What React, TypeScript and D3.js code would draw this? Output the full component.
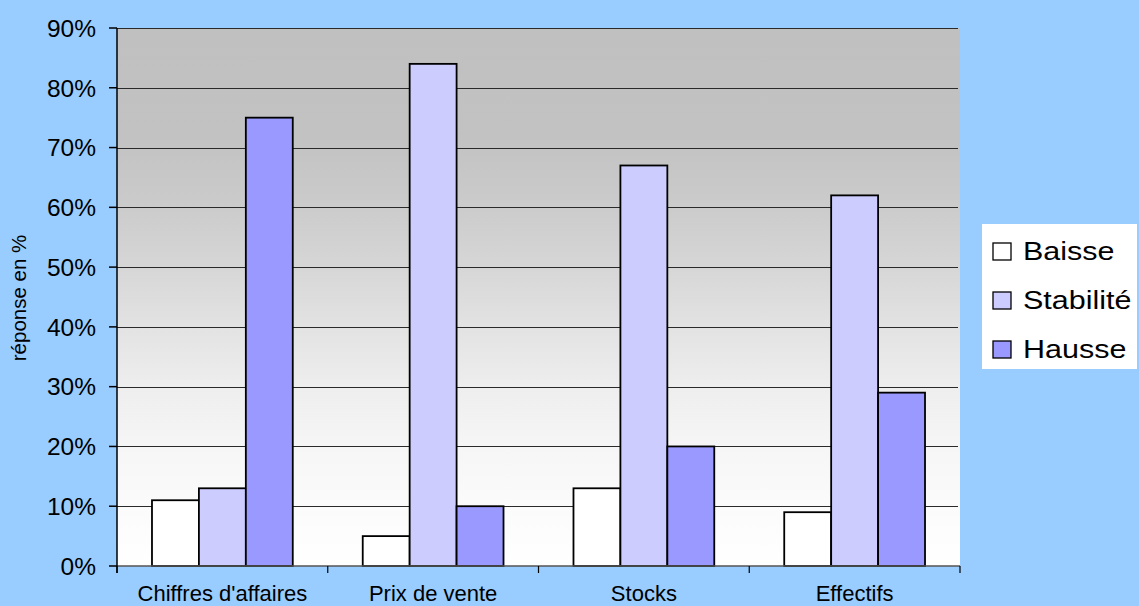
import React from 'react';
import * as d3 from 'd3';

const categories = ["Chiffres d'affaires", 'Prix de vente', 'Stocks', 'Effectifs'];
const series = ['Baisse', 'Stabilité', 'Hausse'];
const baisse = [0.11, 0.05, 0.13, 0.09];
const stabilite = [0.13, 0.84, 0.67, 0.62];
const hausse = [0.75, 0.10, 0.20, 0.29];
const yTicks = [0, 0.1, 0.2, 0.3, 0.4, 0.5, 0.6, 0.7, 0.8, 0.9];
const yLabel = 'réponse en %';

const values = [baisse, stabilite, hausse];
const colors = ['#ffffff', '#ccccff', '#9999ff'];

const W = 1139;
const H = 606;
const plot = { left: 117, right: 960, top: 28, bottom: 566 };
const font = '"Liberation Sans", Arial, sans-serif';

// background shading of the plot area, top (grey) to bottom (white)
const bgStops: [number, string][] = [
  [0, '#c0c0c0'],
  [0.2, '#c2c2c2'],
  [0.33, '#cbcbcb'],
  [0.45, '#d7d7d7'],
  [0.56, '#e3e3e3'],
  [0.67, '#eeeeee'],
  [0.78, '#f6f6f6'],
  [0.89, '#fbfbfb'],
  [1, '#ffffff'],
];

const App: React.FC = () => {
  const x0 = d3.scaleBand<string>().domain(categories).range([plot.left, plot.right]);
  const bw = x0.bandwidth();
  const x1 = d3.scaleBand<string>().domain(series).range([bw * 0.166, bw * 0.834]);
  const y = d3.scaleLinear().domain([0, 0.9]).range([plot.bottom, plot.top]);
  const fmt = d3.format('.0%');

  const boundaries = [...categories.map(c => x0(c) ?? 0), plot.right];

  return (
    <svg
      width={W}
      height={H}
      style={{ position: 'absolute', left: 0, top: 0, display: 'block' }}
      fontFamily={font}
    >
      <defs>
        <linearGradient id="plotbg" x1="0" y1="0" x2="0" y2="1">
          {bgStops.map(([o, c]) => (
            <stop key={o} offset={o} stopColor={c} />
          ))}
        </linearGradient>
      </defs>
      <rect x={0} y={0} width={W} height={H} fill="#99ccff" />
      <rect
        x={plot.left}
        y={plot.top}
        width={plot.right - plot.left}
        height={plot.bottom - plot.top}
        fill="url(#plotbg)"
      />

      {/* gridlines */}
      {yTicks.slice(1).map(t => (
        <line
          key={t}
          x1={plot.left}
          x2={plot.right - 2}
          y1={Math.round(y(t)) + 0.5}
          y2={Math.round(y(t)) + 0.5}
          stroke="#2a2a2a"
          strokeWidth={1.2}
        />
      ))}

      {/* bars */}
      {categories.map((c, i) => (
        <g key={c} transform={`translate(${x0(c)},0)`}>
          {series.map((s, j) => (
            <rect
              key={s}
              x={x1(s)}
              y={y(values[j][i])}
              width={x1.bandwidth()}
              height={y(0) - y(values[j][i])}
              fill={colors[j]}
              stroke="#000"
              strokeWidth={1.8}
            />
          ))}
        </g>
      ))}

      {/* axes */}
      <line x1={plot.left} x2={plot.right} y1={plot.bottom} y2={plot.bottom} stroke="#555" strokeWidth={1.5} />
      <line x1={plot.left} x2={plot.left} y1={plot.top} y2={plot.bottom + 7} stroke="#000" strokeWidth={1.5} />
      {yTicks.map(t => (
        <g key={t}>
          <line x1={plot.left - 8} x2={plot.left} y1={y(t)} y2={y(t)} stroke="#000" strokeWidth={1.5} />
          <text x={96} y={y(t)} dy="0.36em" textAnchor="end" fontSize={24.5} fill="#000">
            {fmt(t)}
          </text>
        </g>
      ))}
      {boundaries.map((b, i) => (
        <line key={i} x1={b} x2={b} y1={plot.bottom} y2={plot.bottom + 7} stroke="#000" strokeWidth={1.2} />
      ))}
      {categories.map(c => (
        <text
          key={c}
          x={(x0(c) ?? 0) + bw / 2}
          y={601}
          textAnchor="middle"
          fontSize={22}
          fill="#000"
        >
          {c}
        </text>
      ))}
      <text
        transform={`translate(26,298) rotate(-90)`}
        textAnchor="middle"
        fontSize={20.5}
        fill="#000"
      >
        {yLabel}
      </text>

      {/* legend */}
      <g transform="translate(982,224)">
        <rect x={0} y={0} width={155} height={145} fill="#ffffff" />
        {series.map((s, j) => (
          <g key={s} transform={`translate(0,${19 + j * 49})`}>
            <rect x={11} y={0} width={18} height={17} fill={colors[j]} stroke="#000" strokeWidth={1.3} />
            <text x={41} y={17} fontSize={25} fill="#000" transform="translate(41,0) scale(1.22,1) translate(-41,0)">
              {s}
            </text>
          </g>
        ))}
      </g>
    </svg>
  );
};

export default App;
